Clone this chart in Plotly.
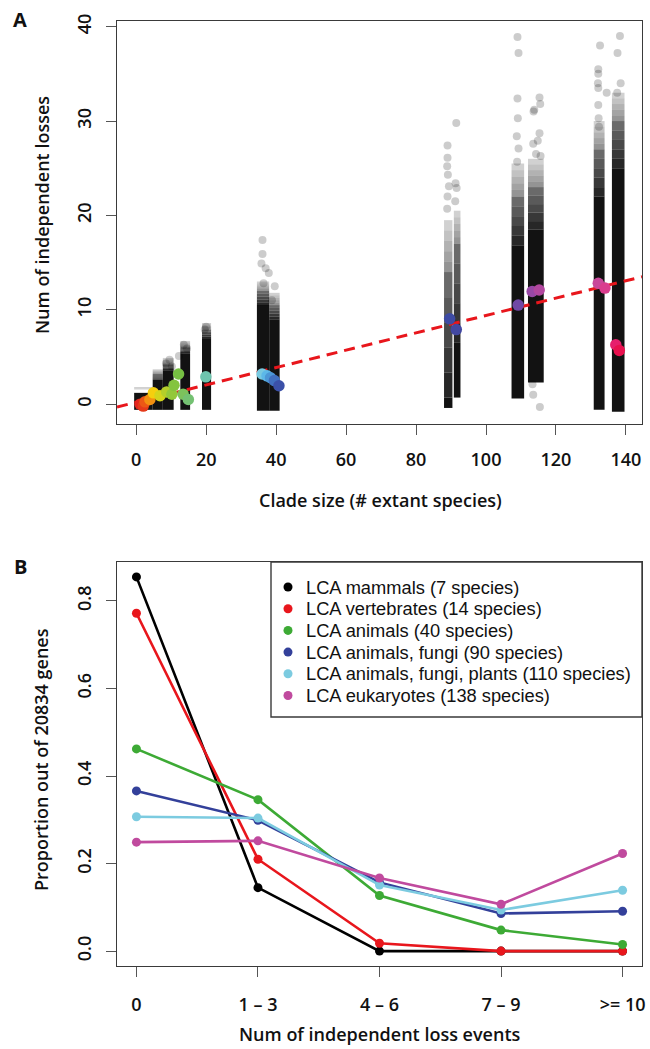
import plotly.graph_objects as go

W, H = 650, 1049

# ---------------- Panel A data ----------------
# jittered columns of per-gene loss counts: x extent, bottom, top of dense / medium / sparse zones
col_x_lo = [-0.6, 4.7, 7.6, 12.6, 18.8, 34.5, 38.0, 88.0, 90.8, 107.3, 112.0, 130.8, 136.0]
col_x_hi = [4.7, 7.6, 10.7, 15.4, 21.4, 38.0, 41.0, 90.4, 92.7, 110.9, 116.5, 133.9, 139.6]
col_lo = [-0.6, -0.6, -0.6, -0.6, -0.6, -0.7, -0.7, -0.4, 0.7, 0.6, 2.3, -0.6, -0.8]
col_dense_hi = [1.2, 2.6, 3.6, 5.4, 7.0, 10.5, 9.0, 0.7, 6.5, 16.8, 18.5, 22.0, 25.0]
col_mid_hi = [1.5, 3.2, 4.3, 6.1, 7.9, 12.0, 10.5, 14.0, 17.0, 22.0, 23.0, 27.0, 30.0]
col_sparse_hi = [1.9, 3.7, 4.9, 6.7, 8.6, 13.0, 11.8, 19.5, 20.5, 25.5, 26.0, 30.0, 33.0]

# individual outlying genes
out_x = [36.1, 36.1, 35.8, 37.0, 37.9, 36.4, 38.8, 39.6,
         20.0, 19.6, 13.6, 14.5, 12.2, 8.5, 9.5, 10.2,
         89.0, 89.0, 88.9, 89.1, 89.4, 89.0, 88.9,
         91.5, 91.3, 91.6, 91.2,
         109.0, 109.3, 109.0, 109.1, 108.8, 109.3, 108.9,
         115.3, 115.5, 113.8, 113.6, 115.3, 114.8, 113.5, 114.3, 115.6, 113.5, 115.4, 113.3,
         132.1, 132.1, 132.0, 132.1, 132.1, 132.2, 132.3, 132.6, 134.5,
         138.3, 137.6, 138.5, 137.5]
out_y = [17.4, 15.9, 14.9, 14.4, 13.9, 12.8, 11.0, 12.5,
         8.2, 7.9, 6.3, 5.9, 5.1, 4.3, 4.7, 4.0,
         27.4, 26.1, 25.2, 24.3, 23.1, 22.0, 20.7,
         29.8, 23.4, 22.9, 21.5,
         38.9, 37.2, 32.4, 30.3, 28.4, 27.1, 25.7,
         32.5, 31.8, 31.2, 31.0, 28.7, 27.9, 27.6, 26.5, 26.3, 1.0, -0.3, 2.1,
         35.5, 35.0, 34.0, 33.5, 31.7, 30.3, 29.4, 38.0, 33.0,
         39.0, 37.2, 34.0, 33.0]

# number of losses at each LCA (coloured dots)
lca_x = [1.1, 2.0, 2.5, 3.9, 4.9, 6.8, 8.7, 10.2, 10.8, 12.1, 13.4, 14.9, 19.9,
         36.0, 37.4, 38.4, 39.5, 40.8, 89.6, 91.5, 109.2, 113.2, 115.2,
         132.1, 134.0, 137.1, 138.1]
lca_y = [0.0, -0.2, 0.25, 0.5, 1.2, 0.9, 1.3, 1.05, 2.0, 3.2, 1.06, 0.5, 2.9,
         3.2, 3.0, 2.8, 2.5, 1.95, 9.04, 7.9, 10.5, 11.95, 12.1,
         12.8, 12.3, 6.3, 5.7]
lca_colors = ["#E3261E", "#E53A1A", "#EC5716", "#F29010", "#F5CF0E", "#D3D51C",
              "#B5CF2A", "#93C83A", "#84C43E", "#76C043", "#7CC25C", "#74C172",
              "#6EC4AE", "#78C9E0", "#5CB8E8", "#4C97D6", "#4170BF", "#3B50A8",
              "#3E4BA3", "#4248A2", "#7048A5", "#9848A6", "#B2479F", "#C9479A",
              "#DA3C8E", "#E61E6C", "#E8104E"]

# regression line end points
fit_x = [-5.5, 144.6]
fit_y = [-0.3, 13.5]

x_ticks_a = [0, 20, 40, 60, 80, 100, 120, 140]
y_ticks_a = [0, 10, 20, 30, 40]

# ---------------- Panel B data ----------------
bins = ["0", "1 \u2013 3", "4 \u2013 6", "7 \u2013 9", ">= 10"]
mammals = [0.855, 0.145, 0.0, 0.0, 0.0]
vertebrates = [0.772, 0.210, 0.018, 0.0, 0.0]
animals = [0.462, 0.346, 0.127, 0.048, 0.015]
animals_fungi = [0.366, 0.299, 0.157, 0.086, 0.091]
animals_fungi_plants = [0.307, 0.304, 0.151, 0.094, 0.139]
eukaryotes = [0.249, 0.252, 0.167, 0.107, 0.223]
series_names = ["LCA mammals (7 species)", "LCA vertebrates (14 species)",
                "LCA animals (40 species)", "LCA animals, fungi (90 species)",
                "LCA animals, fungi, plants (110 species)", "LCA eukaryotes (138 species)"]
series_values = [mammals, vertebrates, animals, animals_fungi, animals_fungi_plants, eukaryotes]
series_colors = ["#000000", "#E8161C", "#3DAA35", "#33409A", "#7CCBE0", "#C04A9E"]
y_ticks_b = [0.0, 0.2, 0.4, 0.6, 0.8]

# ---------------- Figure ----------------
fig = go.Figure()


def rect(x0, x1, y0, y1, alpha):
    if y1 <= y0:
        return
    color = "rgba(0,0,0,%.3f)" % alpha
    fig.add_trace(go.Scatter(x=[x0, x1, x1, x0, x0], y=[y0, y0, y1, y1, y0],
                             mode="lines", fill="toself", fillcolor=color,
                             line=dict(width=0, color=color), hoverinfo="skip",
                             showlegend=False, xaxis="x", yaxis="y"))


def graded(x0, x1, y0, y1, a0, a1, steps=5):
    # shading that fades from alpha a0 (bottom) to a1 (top)
    for k in range(steps):
        ya = y0 + (y1 - y0) * k / steps
        yb = y0 + (y1 - y0) * (k + 1) / steps
        rect(x0, x1, ya, yb, a0 + (a1 - a0) * (k + 0.5) / steps)


for i in range(len(col_x_lo)):
    x0, x1 = col_x_lo[i], col_x_hi[i]
    rect(x0, x1, col_lo[i], col_dense_hi[i], 0.93)
    graded(x0, x1, col_dense_hi[i], col_mid_hi[i], 0.88, 0.55)
    graded(x0, x1, col_mid_hi[i], col_sparse_hi[i], 0.45, 0.15)

fig.add_trace(go.Scatter(x=out_x, y=out_y, mode="markers",
                         marker=dict(size=8, color="rgba(0,0,0,0.2)", line=dict(width=0)),
                         showlegend=False, xaxis="x", yaxis="y", hoverinfo="skip"))

fig.add_trace(go.Scatter(x=fit_x, y=fit_y, mode="lines",
                         line=dict(color="#E8161C", width=3, dash="11px,7px"),
                         showlegend=False, xaxis="x", yaxis="y", hoverinfo="skip"))

fig.add_trace(go.Scatter(x=lca_x, y=lca_y, mode="markers",
                         marker=dict(size=11.5, color=lca_colors, line=dict(width=0)),
                         showlegend=False, xaxis="x", yaxis="y"))

for name, vals, col in zip(series_names, series_values, series_colors):
    fig.add_trace(go.Scatter(x=bins, y=vals, mode="lines+markers", name=name,
                             line=dict(color=col, width=2.6),
                             marker=dict(color=col, size=9),
                             showlegend=False, xaxis="x2", yaxis="y2"))

# ---------------- Layout ----------------
axis_font = dict(family="Open Sans", size=18, color="#111111", weight=600)
box = dict(showline=True, mirror=True, linecolor="#3a3a3a", linewidth=1.4,
           ticks="outside", ticklen=10, tickwidth=1.2, tickcolor="#555555",
           showgrid=False, zeroline=False, tickfont=axis_font, automargin=False)

xdom = [117 / W, 642 / W]
fig.update_layout(
    width=W, height=H, margin=dict(l=0, r=0, t=0, b=0),
    paper_bgcolor="white", plot_bgcolor="white", showlegend=False,
    xaxis=dict(domain=xdom, range=[-5.5, 144.6], tickvals=x_ticks_a,
               ticklabelstandoff=9, anchor="y", **box),
    yaxis=dict(domain=[1 - 424 / H, 1 - 21 / H], range=[-2.1, 40.6], tickvals=y_ticks_a,
               tickangle=-90, ticklabelstandoff=8, anchor="x", **box),
    xaxis2=dict(domain=xdom, range=[-0.16, 4.16], type="category", categoryarray=bins,
                ticklabelstandoff=12, anchor="y2", **box),
    yaxis2=dict(domain=[1 - 966 / H, 1 - 562 / H], range=[-0.034, 0.889], tickvals=y_ticks_b,
                tickformat=".1f", tickangle=-90, ticklabelstandoff=8, anchor="x2", **box),
)

# axis titles
titles = [("Clade size (# extant species)", 380, 500, 0),
          ("Num of independent losses", 42, 215, -90),
          ("Num of independent loss events", 380, 1034, 0),
          ("Proportion out of 20834 genes", 41, 760, -90)]
for text, px, py, ang in titles:
    fig.add_annotation(text=text, x=px / W, y=1 - py / H, xref="paper", yref="paper",
                       showarrow=False, xanchor="center", yanchor="middle", textangle=ang,
                       font=axis_font)

# panel letters
for letter, py in [("A", 19), ("B", 566)]:
    fig.add_annotation(text="<b>%s</b>" % letter, x=20 / W, y=1 - py / H, xref="paper", yref="paper",
                       showarrow=False, xanchor="center", yanchor="middle",
                       font=dict(family="Open Sans", size=20, color="#111111"))

# legend for panel B (box, keys and labels)
leg_left, leg_right, leg_top, leg_bottom = 271, 642, 562, 717
fig.add_shape(type="rect", xref="paper", yref="paper",
              x0=leg_left / W, x1=leg_right / W, y0=1 - leg_bottom / H, y1=1 - leg_top / H,
              line=dict(color="#3a3a3a", width=1.4), fillcolor="white", layer="above")
row_y = [587, 608.7, 630.4, 652.1, 673.8, 695.5]
for name, col, ry in zip(series_names, series_colors, row_y):
    yp = 1 - ry / H
    fig.add_shape(type="circle", xref="paper", yref="paper", xsizemode="pixel", ysizemode="pixel",
                  xanchor=288 / W, yanchor=yp, x0=-4.5, x1=4.5, y0=-4.5, y1=4.5,
                  fillcolor=col, line=dict(width=0), layer="above")
    fig.add_annotation(text=name, x=304 / W, y=yp, xref="paper", yref="paper", showarrow=False,
                       xanchor="left", yanchor="middle",
                       font=dict(family="Liberation Sans", size=18.3, color="#111111"))

fig.write_html("out.html")
